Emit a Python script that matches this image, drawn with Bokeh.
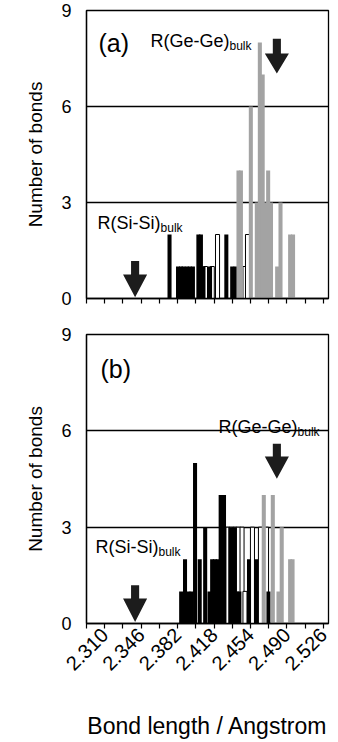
import math
from bokeh.plotting import figure
from bokeh.layouts import column
from bokeh.models import FixedTicker, NumeralTickFormatter, Label, Range1d
from bokeh.embed import file_html
from bokeh.resources import INLINE

# ---------------- data ----------------
BIN_W = 0.004
X_MIN, X_MAX = 2.292, 2.531
x_label_ticks = [2.310, 2.346, 2.382, 2.418, 2.454, 2.490, 2.526]
x_minor_ticks = [2.292, 2.328, 2.364, 2.400, 2.436, 2.472, 2.508]
y_ticks = [0, 3, 6, 9]
y_grid = [3, 6]

# panel (a)
a_sisi_x = [2.3740, 2.3824, 2.3853, 2.3878, 2.3911, 2.3940, 2.3971, 2.4025, 2.4050,
            2.4075, 2.4140, 2.4301, 2.4359, 2.4392]
a_sisi_n = [2, 1, 1, 1, 1, 1, 1, 2, 2, 1, 1, 2, 1, 1]
a_sige_x = [2.4095, 2.4162, 2.4214, 2.4485, 2.4510]
a_sige_n = [1, 1, 2, 1, 2]
a_gege_x = [2.4421, 2.4445, 2.4543, 2.4602, 2.4632, 2.4660, 2.4685, 2.4714, 2.4742,
            2.4803, 2.4836, 2.4931, 2.4960]
a_gege_n = [4, 4, 6, 3, 8, 7, 3, 4, 3, 1, 3, 2, 2]

# panel (b)
b_sisi_x = [2.3855, 2.3893, 2.3927, 2.3957, 2.3992, 2.4038, 2.4092, 2.4135, 2.4161,
            2.4188, 2.4216, 2.4245, 2.4278, 2.4340, 2.4377, 2.4404, 2.4430, 2.4525,
            2.4594, 2.4717]
b_sisi_n = [1, 2, 1, 1, 5, 2, 3, 1, 2, 2, 2, 4, 4, 3, 3, 1, 1, 2, 2, 1]
b_sige_x = [2.4317, 2.4352, 2.4387, 2.4421, 2.4456, 2.4485, 2.4559, 2.4638, 2.4698]
b_sige_n = [3, 3, 3, 3, 3, 1, 3, 3, 3]
b_gege_x = [2.4671, 2.4760, 2.4816, 2.4848, 2.4931, 2.4955]
b_gege_n = [4, 4, 1, 3, 2, 2]

# bulk bond lengths marked by arrows (as drawn)
bulk_si = 2.340
bulk_ge = 2.480
# arrow vertical extents (top of shaft, start of head, tip) in count units
a_arrow_si = [1.17, 0.75, 0.04]
a_arrow_ge = [8.12, 7.66, 7.03]
b_arrow_si = [1.19, 0.78, 0.05]
b_arrow_ge = [5.60, 5.20, 4.51]

GREY = "#a3a3a3"
FONT = "Liberation Sans"
SHAFT_HW = 0.0040
HEAD_HW = 0.0119


def arrow_shape(xc, ys):
    top, neck, tip = ys
    xs = [xc - SHAFT_HW, xc + SHAFT_HW, xc + SHAFT_HW, xc + HEAD_HW, xc, xc - HEAD_HW, xc - SHAFT_HW]
    yv = [top, top, neck, neck, tip, neck, neck]
    return xs, yv


def make_panel(sisi_x, sisi_n, sige_x, sige_n, gege_x, gege_n, arr_si, arr_ge,
               tag, tag_xy, ge_xy, si_xy, height, btop, bbottom, show_x):
    p = figure(width=338, height=height, x_range=Range1d(X_MIN, X_MAX), y_range=Range1d(0, 9),
               output_backend="svg", toolbar_location=None,
               min_border_left=86, min_border_right=10,
               min_border_top=btop, min_border_bottom=bbottom)
    p.background_fill_color = "white"
    p.outline_line_color = "black"
    p.outline_line_width = 1.3

    p.vbar(x=sige_x, top=sige_n, width=BIN_W, fill_color="white", line_color="black", line_width=1)
    p.vbar(x=sisi_x, top=sisi_n, width=BIN_W, fill_color="black", line_color=None)
    p.vbar(x=gege_x, top=gege_n, width=BIN_W, fill_color=GREY, line_color=None)

    s1 = arrow_shape(bulk_si, arr_si)
    s2 = arrow_shape(bulk_ge, arr_ge)
    p.patches(xs=[s1[0], s2[0]], ys=[s1[1], s2[1]], fill_color="#1c1c1c", line_color=None)

    p.xgrid.visible = False
    p.ygrid.ticker = FixedTicker(ticks=y_grid)
    p.ygrid.grid_line_color = "black"
    p.ygrid.grid_line_width = 1.3

    xa = p.xaxis[0]
    if show_x:
        xa.ticker = FixedTicker(ticks=x_label_ticks, minor_ticks=x_minor_ticks)
    else:
        xa.ticker = FixedTicker(ticks=[], minor_ticks=sorted(x_label_ticks + x_minor_ticks))
    xa.formatter = NumeralTickFormatter(format="0.000")
    xa.major_tick_out = 5
    xa.major_tick_in = 0
    xa.minor_tick_out = 5
    xa.minor_tick_in = 0
    xa.axis_line_width = 1.3
    xa.major_tick_line_width = 1.2
    xa.minor_tick_line_width = 1.2
    xa.major_label_orientation = math.pi / 4
    xa.major_label_text_font = FONT
    xa.major_label_text_font_size = "20px"
    xa.major_label_text_color = "black"
    xa.major_label_standoff = 3
    if show_x:
        xa.axis_label = "Bond length / Angstrom"
        xa.axis_label_text_font = FONT
        xa.axis_label_text_font_size = "23px"
        xa.axis_label_text_font_style = "normal"
        xa.axis_label_text_color = "black"
        xa.axis_label_standoff = 33

    ya = p.yaxis[0]
    ya.ticker = FixedTicker(ticks=y_ticks)
    ya.major_tick_out = 0
    ya.major_tick_in = 0
    ya.minor_tick_out = 0
    ya.minor_tick_in = 0
    ya.axis_line_width = 1.3
    ya.major_label_standoff = 15
    ya.major_label_text_font = FONT
    ya.major_label_text_font_size = "18px"
    ya.major_label_text_color = "black"
    ya.axis_label = "Number of bonds"
    ya.axis_label_text_font = FONT
    ya.axis_label_text_font_size = "19px"
    ya.axis_label_text_font_style = "normal"
    ya.axis_label_text_color = "black"
    ya.axis_label_standoff = 12

    p.add_layout(Label(x=tag_xy[0], y=tag_xy[1], text=tag, text_font=FONT,
                       text_font_size="25px", text_color="black", text_baseline="alphabetic"))
    for (tx, ty), main, w in ((ge_xy, "R(Ge-Ge)", 79), (si_xy, "R(Si-Si)", 63)):
        p.add_layout(Label(x=tx, y=ty, text=main, text_font=FONT, text_font_size="18px",
                           text_color="black", text_baseline="alphabetic"))
        p.add_layout(Label(x=tx, y=ty, x_offset=w, y_offset=-5, text="bulk", text_font=FONT,
                           text_font_size="12px", text_color="black", text_baseline="alphabetic"))
    return p


pa = make_panel(a_sisi_x, a_sisi_n, a_sige_x, a_sige_n, a_gege_x, a_gege_n,
                a_arrow_si, a_arrow_ge, "(a)", (2.3039, 8.0), (2.3552, 8.06), (2.3029, 2.375),
                height=324, btop=10, bbottom=26, show_x=False)
pb = make_panel(b_sisi_x, b_sisi_n, b_sige_x, b_sige_n, b_gege_x, b_gege_n,
                b_arrow_si, b_arrow_ge, "(b)", (2.3058, 7.93), (2.4224, 6.13), (2.3009, 2.37),
                height=418, btop=10, bbottom=119, show_x=True)

layout = column(pa, pb)
open("out.html", "w").write(file_html(layout, INLINE))
